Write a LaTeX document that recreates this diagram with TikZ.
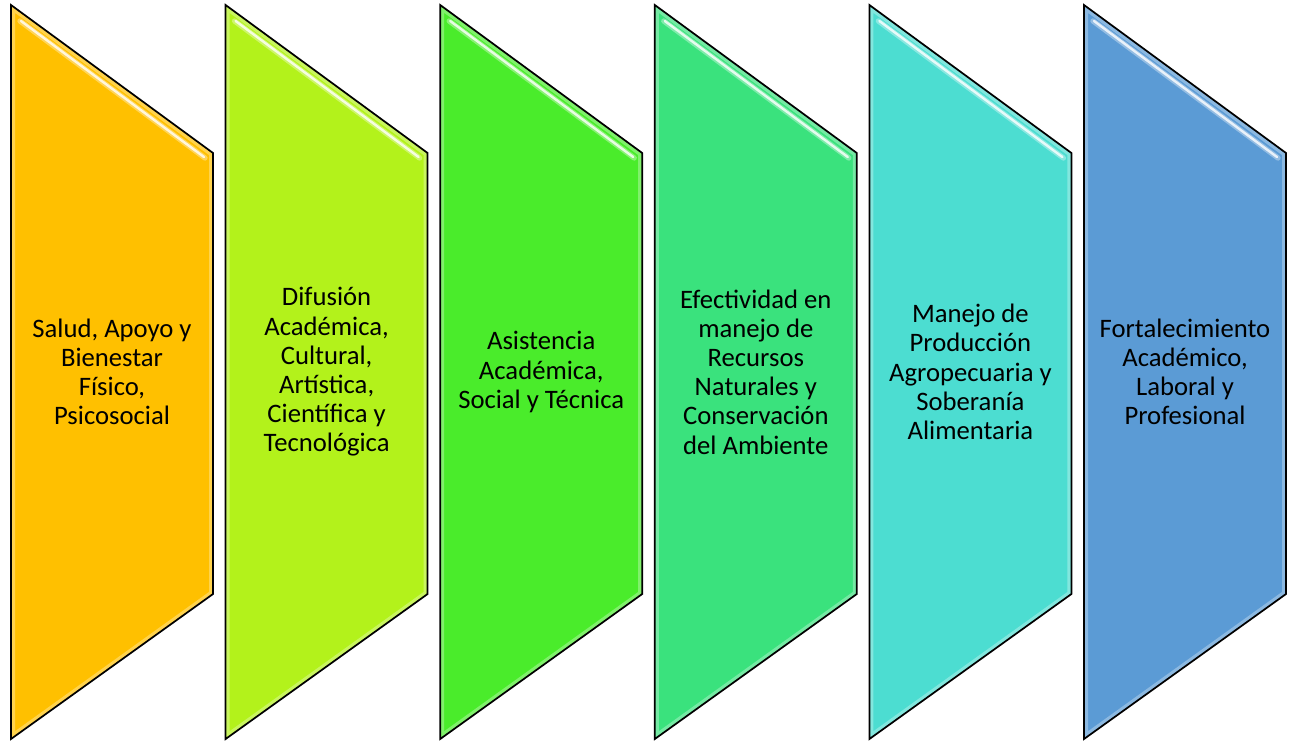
\documentclass[tikz,border=0pt]{standalone}
\usepackage{fontspec}
\setmainfont{Carlito}
\usetikzlibrary{calc}

\definecolor{salud}{HTML}{FFC000}
\definecolor{difusion}{HTML}{B3F21B}
\definecolor{asistencia}{HTML}{4AEC2B}
\definecolor{recursos}{HTML}{3AE27D}
\definecolor{agro}{HTML}{4CDDD1}
\definecolor{fortalec}{HTML}{5B9BD5}

\tikzset{
	panel/.style={draw=black, line width=1.3pt, line join=miter},
	paneltext/.style={align=center, font=\fontsize{20}{21.9}\selectfont},
	shine/.style={draw=white, line cap=round, line width=#1}
}

\begin{document}
\begin{tikzpicture}[x=0.75pt,y=-0.75pt]
	
	\useasboundingbox (0,0) rectangle (1296,740);
	
	\foreach \i/\col/\txt in {
		0/salud/{Salud, Apoyo y\\Bienestar\\Físico,\\Psicosocial},
		1/difusion/{Difusión\\Académica,\\Cultural,\\Artística,\\Científica y\\Tecnológica},
		2/asistencia/{Asistencia\\Académica,\\Social y Técnica},
		3/recursos/{Efectividad en\\manejo de\\Recursos\\Naturales y\\Conservación\\del Ambiente},
		4/agro/{Manejo de\\Producción\\Agropecuaria y\\Soberanía\\Alimentaria},
		5/fortalec/{Fortalecimiento\\Académico,\\Laboral y\\Profesional}}
	{
		\pgfmathsetmacro{\x}{11+214.6*\i}
		\coordinate (a\i) at (\x,5);
		\coordinate (b\i) at (\x+202,153);
		\coordinate (c\i) at (\x+202,594);
		\coordinate (d\i) at (\x,739);
		
		\fill[\col] (a\i) -- (b\i) -- (c\i) -- (d\i) -- cycle;
		\begin{scope}
			\clip (a\i) -- (b\i) -- (c\i) -- (d\i) -- cycle;
			\draw[white, opacity=0.3, line width=6pt] (a\i) -- (b\i) -- (c\i) -- (d\i) -- cycle;
		\end{scope}
		\draw[shine=4pt, opacity=0.35] ($(a\i)+(9,16)$) -- ($(b\i)+(-8,5)$);
		\draw[shine=1.8pt, opacity=0.8] ($(a\i)+(10,16)$) -- ($(b\i)+(-9,4)$);
		\draw[panel] (a\i) -- (b\i) -- (c\i) -- (d\i) -- cycle;
		
		\node[paneltext] (t\i) at (\x+101,372) {\txt};
	}
	
\end{tikzpicture}
\end{document}
